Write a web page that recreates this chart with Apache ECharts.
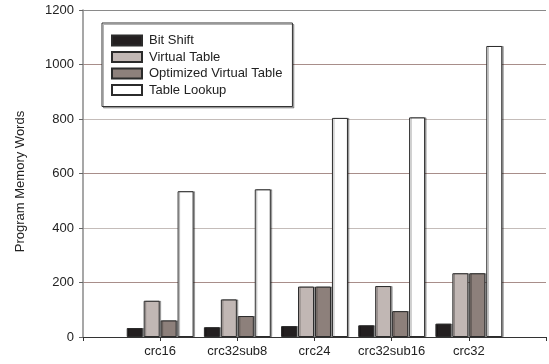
<!DOCTYPE html>
<html>
<head>
<meta charset="utf-8">
<script src="https://cdn.jsdelivr.net/npm/echarts@6/dist/echarts.min.js"></script>
<style>html,body{margin:0;padding:0;background:#fff}#c{width:549px;height:364px}</style>
</head>
<body>
<div id="c"></div>
<script>
var categories = ['crc16', 'crc32sub8', 'crc24', 'crc32sub16', 'crc32'];
var bitShift = [33, 36, 40, 43, 49];
var virtualTable = [133, 138, 185, 187, 234];
var optimizedVirtualTable = [61, 77, 185, 95, 234];
var tableLookup = [535, 542, 804, 806, 1068];
var yTicks = [0, 200, 400, 600, 800, 1000, 1200];

// leading and trailing empty slots so categories sit on ticks as in the original
function pad(arr) { return [null].concat(arr, [null]); }
var axisCats = [''].concat(categories, ['']);

var font = 'Liberation Sans, Arial, sans-serif';
function series(name, data, color) {
  return {
    name: name, type: 'bar', data: pad(data), barWidth: 16, barGap: '6%',
    itemStyle: { color: color, borderColor: '#2b2b2b', borderWidth: 1,
      shadowColor: 'rgba(0,0,0,0.3)', shadowOffsetX: 1.5, shadowOffsetY: 0, shadowBlur: 0 },
    emphasis: { disabled: true }
  };
}
var chart = echarts.init(document.getElementById('c'), null, { renderer: 'canvas' });
chart.setOption({
  animation: false,
  backgroundColor: '#fff',
  textStyle: { fontFamily: font },
  grid: { left: 83, top: 10, bottom: 27, right: -2, containLabel: false },
  legend: {
    orient: 'vertical', left: 102, top: 23,
    padding: [11, 10, 10, 9],
    itemWidth: 30, itemHeight: 10, itemGap: 3.5,
    backgroundColor: '#fff', borderColor: '#333', borderWidth: 1,
    shadowColor: 'rgba(0,0,0,0.3)', shadowOffsetX: 1.5, shadowOffsetY: 1.5, shadowBlur: 0,
    textStyle: { fontFamily: font, fontSize: 13, color: '#222', padding: [0, 0, 0, 2] },
    icon: 'rect',
    data: ['Bit Shift', 'Virtual Table', 'Optimized Virtual Table', 'Table Lookup']
  },
  xAxis: {
    type: 'category', data: axisCats, boundaryGap: false,
    axisLine: { lineStyle: { color: '#333', width: 1 } },
    axisTick: { show: true, length: 4, lineStyle: { color: '#333' } },
    axisLabel: { fontFamily: font, fontSize: 13, color: '#222', margin: 8, interval: 0 },
    splitLine: { show: false }
  },
  yAxis: {
    type: 'value', min: yTicks[0], max: yTicks[yTicks.length - 1], interval: yTicks[1] - yTicks[0],
    name: 'Program Memory Words', nameLocation: 'middle', nameGap: 56,
    nameTextStyle: { fontFamily: font, fontSize: 13, color: '#222', padding: [0, 16, 0, 0] },
    axisLine: { show: true, lineStyle: { color: '#8a8a8a', width: 1.5 } },
    axisTick: { show: true, inside: false, length: 4, lineStyle: { color: '#666' } },
    axisLabel: { fontFamily: font, fontSize: 13, color: '#222', margin: 9,
      formatter: function (v) { return String(v); } },
    splitLine: { show: true, lineStyle: { width: 1, color: ['#999', '#a88e8a', '#c4bcb9', '#a88e8a', '#c4bcb9', '#a88e8a', '#8a8a8a'] } }
  },
  series: [
    series('Bit Shift', bitShift, '#231f20'),
    series('Virtual Table', virtualTable, '#c1b7b4'),
    series('Optimized Virtual Table', optimizedVirtualTable, '#8d807b'),
    series('Table Lookup', tableLookup, '#ffffff')
  ]
});
</script>
</body>
</html>
